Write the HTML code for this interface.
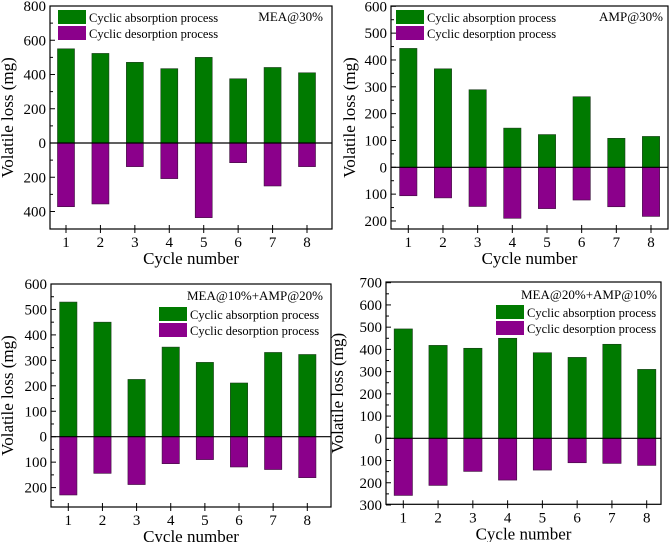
<!DOCTYPE html>
<html><head><meta charset="utf-8"><style>
html,body{margin:0;padding:0;background:#fff;}
svg{display:block;font-family:"Liberation Serif",serif;}
</style></head><body>
<svg id="fig" width="670" height="542" viewBox="0 0 670 542" xmlns="http://www.w3.org/2000/svg"></svg>
<script>
const cycles = [1,2,3,4,5,6,7,8];
const meaAbs = [550,523,471,434,500,375,441,410];
const meaDes = [372,356,138,208,436,115,251,138];
const ampAbs = [443,367,289,146,122,263,108,115];
const ampDes = [106,114,146,190,154,122,147,183];
const mix1Abs = [529,450,225,352,292,211,331,323];
const mix1Des = [229,144,188,106,90,119,129,161];
const mix2Abs = [492,418,405,450,385,364,423,310];
const mix2Des = [257,212,149,188,143,110,113,122];
const ticks1 = [800,600,400,200,0,-200,-400];
const ticks2 = [600,500,400,300,200,100,0,-100,-200];
const ticks3 = [600,500,400,300,200,100,0,-100,-200];
const ticks4 = [700,600,500,400,300,200,100,0,-100,-200,-300];

const NS="http://www.w3.org/2000/svg";
const svg=document.getElementById('fig');
function mk(tag,attrs,parent){const e=document.createElementNS(NS,tag);for(const k in attrs)e.setAttribute(k,attrs[k]);(parent||svg).appendChild(e);return e;}

function panel(p){
  const g=mk('g',{});
  
  
  const ppu=(p.y0px-p.yTopPx)/p.yTopVal;
  const y=v=>p.y0px-v*ppu;
  const step=(p.x8-p.x1)/7;
  const x=c=>p.x1+(c-1)*step;
  // bars
  cycles.forEach((c,i)=>{
    const a=mk('rect',{x:x(c)-p.bw/2,y:y(p.abs[i]),width:p.bw,height:y(0)-y(p.abs[i]),fill:'#007a00',stroke:'#1a3a1a','stroke-width':0.6},g);
    
    
    const d=mk('rect',{x:x(c)-p.bw/2,y:y(0),width:p.bw,height:y(-p.des[i])-y(0),fill:'#8b008b',stroke:'#3a103a','stroke-width':0.6},g);
    
    
  });
  // zero line
  const z=mk('line',{x1:p.left,x2:p.right,y1:y(0),y2:y(0),stroke:'#000','stroke-width':1.2},g);
  
  
  // frame
  const f=mk('rect',{x:p.left,y:p.top,width:p.right-p.left,height:p.bottom-p.top,fill:'none',stroke:'#000','stroke-width':1.2},g);
  
  
  // y ticks
  const tk=p.ticks;
  const half=(tk[0]-tk[1])/2;
  tk.forEach(t=>{
    mk('line',{x1:p.left,x2:p.left+5,y1:y(t),y2:y(t),stroke:'#000','stroke-width':1},g);
    const m=t-half;
    if(y(m)<p.bottom-1) mk('line',{x1:p.left,x2:p.left+3,y1:y(m),y2:y(m),stroke:'#000','stroke-width':1},g);
    const tl=mk('text',{x:p.left-4,y:y(t)+5,'text-anchor':'end','font-size':15},g);
    tl.textContent=Math.abs(t);
    
    
  });
  cycles.forEach(c=>{
    mk('line',{x1:x(c),x2:x(c),y1:p.bottom-4,y2:p.bottom+4,stroke:'#000','stroke-width':1},g);
    const xl=mk('text',{x:x(c),y:p.bottom+18,'text-anchor':'middle','font-size':15},g);
    xl.textContent=c;
    
    
  });
  const xt=mk('text',{x:(p.left+p.right)/2,y:p.bottom+35,'text-anchor':'middle','font-size':17},g);
  xt.textContent='Cycle number';
  
  
  const cy=(p.top+p.bottom)/2;
  const yt=mk('text',{x:p.ylabX,y:cy,'text-anchor':'middle','font-size':17,transform:`rotate(-90 ${p.ylabX} ${cy})`},g);
  yt.textContent='Volatile loss (mg)';
  
  
  // legend
  const l1=mk('rect',{x:p.lx,y:p.ly,width:28,height:14,fill:'#007a00'},g);
  
  
  const l2=mk('rect',{x:p.lx,y:p.ly+16,width:28,height:14,fill:'#8b008b'},g);
  
  
  const t1=mk('text',{x:p.lx+31,y:p.ly+12,'font-size':12.5},g);
  t1.textContent='Cyclic absorption process';
  
  
  const t2=mk('text',{x:p.lx+31,y:p.ly+28,'font-size':12.5},g);
  t2.textContent='Cyclic desorption process';
  
  
  const tt=mk('text',{x:p.tx,y:p.ty,'text-anchor':'end','font-size':13},g);
  tt.textContent=p.title;
  
  
}

panel({name:'panel-mea30',abs:meaAbs,des:meaDes,ticks:ticks1,left:50,right:332,top:6,bottom:229,y0px:143,yTopPx:6,yTopVal:800,x1:66,x8:307,bw:17,ylabX:13,lx:58,ly:10,tx:323,ty:21,title:'MEA@30%'});
panel({name:'panel-amp30',abs:ampAbs,des:ampDes,ticks:ticks2,left:391,right:668,top:6,bottom:229,y0px:167.3,yTopPx:6.3,yTopVal:600,x1:408.3,x8:651,bw:17.3,ylabX:355,lx:396,ly:10,tx:663,ty:21,title:'AMP@30%'});
panel({name:'panel-mea10-amp20',abs:mix1Abs,des:mix1Des,ticks:ticks3,left:51,right:331,top:284,bottom:507,y0px:436.7,yTopPx:284,yTopVal:600,x1:68.3,x8:307.3,bw:17.3,ylabX:13,lx:159,ly:307,tx:323,ty:300,title:'MEA@10%+AMP@20%'});
panel({name:'panel-mea20-amp10',abs:mix2Abs,des:mix2Des,ticks:ticks4,left:386,right:661,top:282,bottom:504.3,y0px:438.3,yTopPx:282.7,yTopVal:700,x1:403.3,x8:646.7,bw:18.3,ylabX:343,lx:496,ly:305,tx:657,ty:299,title:'MEA@20%+AMP@10%'});
</script>
</body></html>
